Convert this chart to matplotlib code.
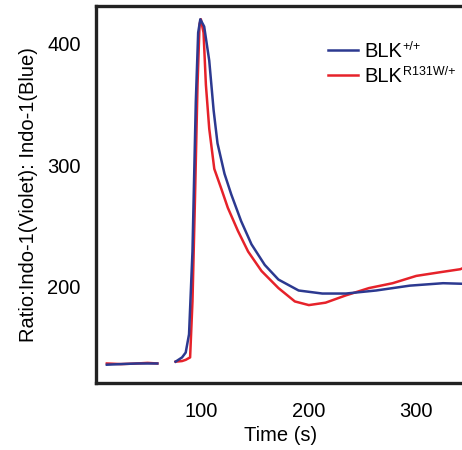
import matplotlib
matplotlib.use("Agg")
import matplotlib.pyplot as plt

plt.rcParams['font.family'] = ['Liberation Sans', 'DejaVu Sans']

# baseline segment (before stimulation) and response segment
wt_base_t = [12, 25, 40, 50, 59]
wt_base_y = [136, 136.5, 137, 137, 137]
mut_base_t = [12, 25, 40, 50, 59]
mut_base_y = [137, 136.5, 137, 137.5, 137]

wt_t = [76, 82, 85.4, 88.5, 91.7, 94.8, 97, 99, 102.6, 107.3, 111.4, 115, 121.5,
        127.8, 137, 146.6, 159, 171.7, 190.5, 212.6, 234.5, 262.6, 294, 325, 344]
wt_y = [138.5, 142, 146, 161, 229, 352, 409, 420, 414, 386, 345, 318, 293,
        276, 254, 235, 218, 206, 197, 194.5, 194.5, 197, 201, 203, 202.5]

mut_t = [76, 82, 85.4, 89.5, 91.7, 94, 96.4, 98.3, 99.5, 102, 104.2, 107.3, 112,
         118.4, 124.6, 134, 143.5, 156, 171.7, 187, 200, 215.6, 234.5, 256, 278,
         300, 322, 341, 345]
mut_y = [138.5, 139, 140, 142, 188, 271, 366, 416, 420, 409, 366, 330, 297,
         281, 265, 246, 229, 213, 199, 188, 185, 187, 193, 199, 203,
         209, 212, 214.5, 216]

genotypes = ['+/+', 'R131W/+']

blue = '#2c3990'
red = '#e6222a'
fs = 14.5

fig = plt.figure(figsize=(4.62, 4.5), dpi=100)
ax = fig.add_axes([0.208, 0.149, 0.80, 0.838])

ax.plot(mut_base_t, mut_base_y, color=red, lw=1.8)
ax.plot(wt_base_t, wt_base_y, color=blue, lw=1.8)
l_mut, = ax.plot(mut_t, mut_y, color=red, lw=1.8)
l_wt, = ax.plot(wt_t, wt_y, color=blue, lw=1.8)

ax.set_xlim(2, 346)
ax.set_ylim(121, 431)
ax.set_xticks([100, 200, 300])
ax.set_yticks([200, 300, 400])
ax.tick_params(length=0, labelsize=fs)
ax.tick_params(axis='x', pad=14)
ax.tick_params(axis='y', pad=11)
for s in ax.spines.values():
    s.set_linewidth(2.4)
    s.set_color('#222222')

ax.set_xlabel('Time (s)', fontsize=fs, labelpad=3)
ax.set_ylabel('Ratio:Indo-1(Violet): Indo-1(Blue)', fontsize=fs, labelpad=7)

leg = ax.legend([l_wt, l_mut], ['BLK', 'BLK'], loc='upper left',
                bbox_to_anchor=(0.628, 0.905), borderaxespad=0, borderpad=0,
                frameon=False, fontsize=fs, handlelength=1.5, handletextpad=0.3,
                labelspacing=0.3)

# small superscripts after each "BLK"
fig.canvas.draw()
for txt, sup in zip(leg.get_texts(), genotypes):
    bb = txt.get_window_extent()
    x, y = fig.transFigure.inverted().transform((bb.x1 + 0.5, bb.y1 + 1))
    fig.text(x, y, sup, fontsize=9, ha='left', va='top')

fig.savefig('out.png', dpi=100)
